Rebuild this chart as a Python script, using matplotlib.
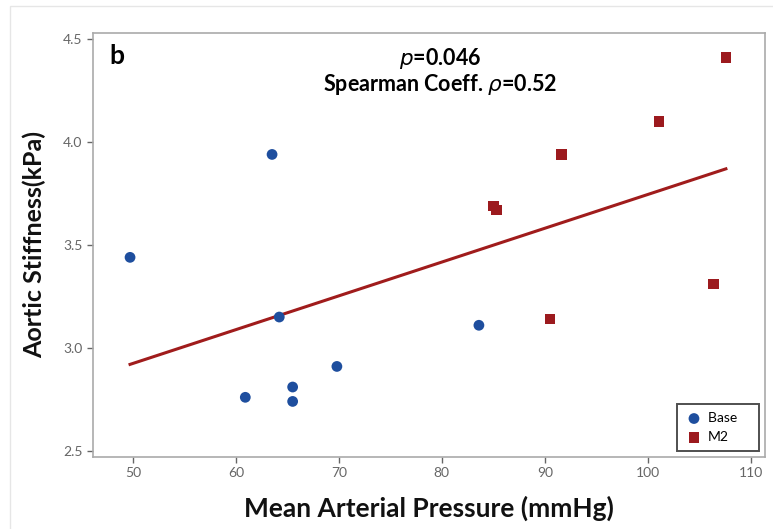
import numpy as np
import matplotlib
matplotlib.use("Agg")
import matplotlib.pyplot as plt
from matplotlib.patches import Rectangle

plt.rcParams['font.family'] = ['Lato', 'DejaVu Sans']

base_x = [49.7, 63.5, 64.2, 60.9, 65.5, 65.5, 69.8, 83.6]
base_y = [3.44, 3.94, 3.15, 2.76, 2.81, 2.74, 2.91, 3.11]
m2_x = [107.6, 101.1, 91.6, 85.0, 85.3, 90.5, 106.4]
m2_y = [4.41, 4.10, 3.94, 3.69, 3.67, 3.14, 3.31]
fit_x = [49.7, 107.6]
fit_y = [2.92, 3.87]
xticks = [50, 60, 70, 80, 90, 100, 110]
yticks = [2.5, 3.0, 3.5, 4.0, 4.5]

fig = plt.figure(figsize=(7.73, 5.29), dpi=100)
fig.patches.append(Rectangle((10/773, -0.1), 1.2, (529-6)/529 + 0.1, transform=fig.transFigure,
                             fill=False, edgecolor='#e6e6e6', linewidth=1))
ax = fig.add_axes([93/773, 72/529, 672/773, 424/529])

blue = '#1E4E9E'
red = '#9C1A1E'
ax.plot(fit_x, fit_y, color='#A01C1C', linewidth=2.2, zorder=2)
ax.scatter(base_x, base_y, marker='o', s=60, color=blue, label='Base', zorder=3, edgecolors='none')
ax.scatter(m2_x, m2_y, marker='s', s=60, color=red, label='M2', zorder=3, edgecolors='none')

ax.set_xlim(46.1, 111.4)
ax.set_ylim(2.47, 4.53)
ax.set_xticks(xticks)
ax.set_yticks(yticks)
ax.set_xticklabels([str(t) for t in xticks])
ax.set_yticklabels([f"{t:.1f}" for t in yticks])
ax.tick_params(axis='both', colors='#666666', labelsize=10, length=4, width=1, direction='out')
for sp in ax.spines.values():
    sp.set_color('#aaaaaa')
    sp.set_linewidth(1.2)

ax.set_xlabel('Mean Arterial Pressure (mmHg)', fontsize=19, fontweight='bold', color='#111111', labelpad=12)
ax.set_ylabel('Aortic Stiffness(kPa)', fontsize=18, fontweight='bold', color='#111111', labelpad=12)

ax.text(0.025, 0.975, 'b', transform=ax.transAxes, fontsize=19, fontweight='bold', va='top', ha='left')
ax.text(0.517, 0.94, r'$\mathit{p}$=0.046', transform=ax.transAxes, fontsize=15.5, fontweight='bold', ha='center', va='center')
ax.text(0.517, 0.878, r'Spearman Coeff. $\mathit{\rho}$=0.52', transform=ax.transAxes, fontsize=15.5, fontweight='bold', ha='center', va='center')

leg = ax.legend(loc='lower right', fontsize=10, frameon=True, fancybox=False, borderpad=0.6,
                handletextpad=0.4, handlelength=1.2, markerscale=1.0, borderaxespad=0.4,
                labelspacing=0.5)
leg.get_frame().set_edgecolor('#222222')
leg.get_frame().set_linewidth(1.4)
leg.get_texts()[0].set_text('Base    ')

fig.savefig('out.png', dpi=100)
